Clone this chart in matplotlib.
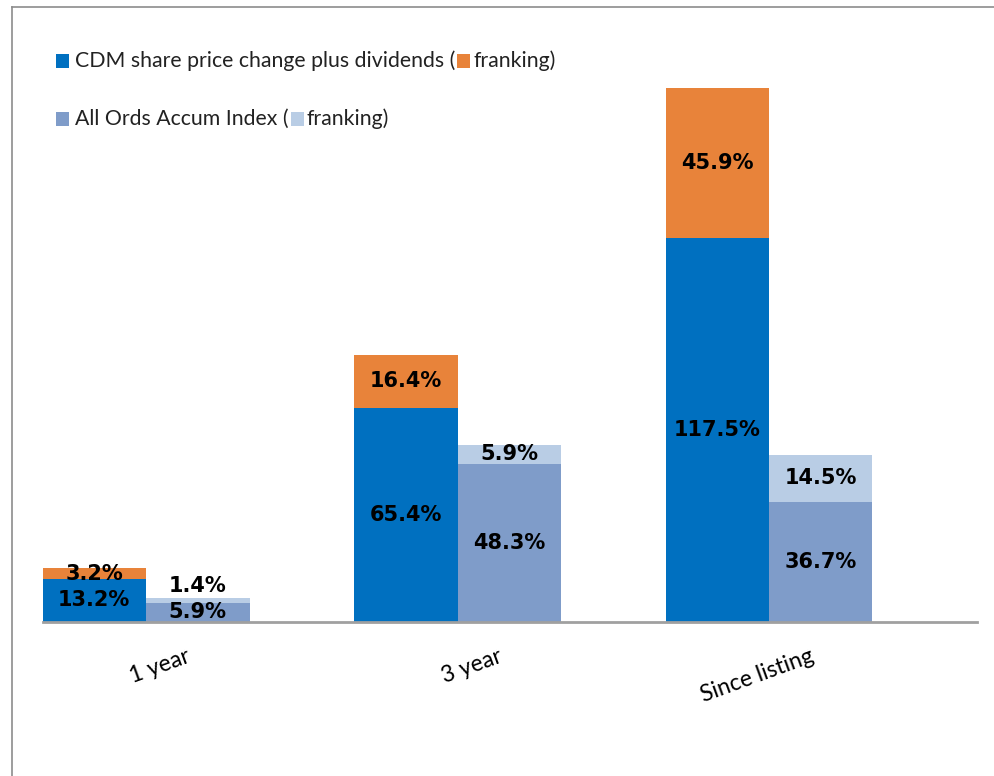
import matplotlib
matplotlib.use("Agg")
import matplotlib.pyplot as plt
from matplotlib.patches import Rectangle
from matplotlib.lines import Line2D
from matplotlib.transforms import ScaledTranslation
import numpy as np

categories = ["1 year", "3 year", "Since listing"]
cdm_base = [13.2, 65.4, 117.5]
cdm_franking = [3.2, 16.4, 45.9]
ao_base = [5.9, 48.3, 36.7]
ao_franking = [1.4, 5.9, 14.5]

legend_1 = "CDM share price change plus dividends ("
legend_2 = "All Ords Accum Index ("
legend_tail = "franking)"

C_BLUE = "#0070C0"
C_ORANGE = "#E8833A"
C_AO = "#7F9CC9"
C_AO_LIGHT = "#B9CDE5"

W, H = 994, 776
fig = plt.figure(figsize=(W / 100, H / 100), dpi=100)

# axes placement in pixels
ax_left, ax_right = 43, 977
ax_bottom = 622
px_per_unit = 3.27
ymax = 175
ax_top = ax_bottom - ymax * px_per_unit
ax = fig.add_axes([ax_left / W, 1 - ax_bottom / H, (ax_right - ax_left) / W, (ax_bottom - ax_top) / H])

spacing = 311.5
bw = 103.5 / spacing
x = np.arange(len(categories))
ax.set_xlim(-(146 - 43) / spacing, 2 + (ax_right - 769) / spacing)
ax.set_ylim(0, ymax)

xb = x - bw / 2
xa = x + bw / 2
ax.bar(xb, cdm_base, width=bw, color=C_BLUE, linewidth=0)
ax.bar(xb, cdm_franking, width=bw, bottom=cdm_base, color=C_ORANGE, linewidth=0)
ax.bar(xa, ao_base, width=bw, color=C_AO, linewidth=0)
ax.bar(xa, ao_franking, width=bw, bottom=ao_base, color=C_AO_LIGHT, linewidth=0)

lab_kw = dict(ha="center", fontsize=15, fontweight="bold", color="black", family="DejaVu Sans")

def put(xpos, bottom, val):
    if val < 2:
        ax.text(xpos, bottom + val + 0.6, f"{val:.1f}%", va="bottom", **lab_kw)
    else:
        ax.text(xpos, bottom + val / 2, f"{val:.1f}%", va="center", **lab_kw)

for i in range(len(categories)):
    put(xb[i], 0, cdm_base[i])
    put(xb[i], cdm_base[i], cdm_franking[i])
    put(xa[i], 0, ao_base[i])
    put(xa[i], ao_base[i], ao_franking[i])

for s in ["top", "right", "left"]:
    ax.spines[s].set_visible(False)
ax.spines["bottom"].set_color("#A0A0A0")
ax.spines["bottom"].set_linewidth(2)
ax.set_yticks([])
ax.set_xticks(x)
ax.set_xticklabels(categories, rotation=20, fontsize=16.5, family="Lato", color="black")
ax.tick_params(axis="x", length=0, pad=17)
label_shift_px = [14, 14, -12]
for lbl, dx in zip(ax.get_xticklabels(), label_shift_px):
    lbl.set_transform(lbl.get_transform() + ScaledTranslation(dx / 100, 0, fig.dpi_scale_trans))

# figure border (left and top)
fig.add_artist(Line2D([11.5 / W, 11.5 / W], [0, 1 - 7 / H], transform=fig.transFigure, color="#8C8C8C", lw=1.2))
fig.add_artist(Line2D([11.5 / W, 1], [1 - 7 / H, 1 - 7 / H], transform=fig.transFigure, color="#8C8C8C", lw=1.2))

# legend (manual)
def legend_row(ycen, text, c1, c2):
    sq = 13
    fig.add_artist(Rectangle((56 / W, 1 - (ycen + sq / 2) / H), sq / W, sq / H,
                             transform=fig.transFigure, color=c1, lw=0))
    t = fig.text(75 / W, 1 - ycen / H, text, fontsize=15.3, family="Lato",
                 va="center", ha="left", color="#222222")
    fig.canvas.draw()
    bb = t.get_window_extent()
    x2 = bb.x1 + 2
    fig.add_artist(Rectangle((x2 / W, 1 - (ycen + sq / 2) / H), sq / W, sq / H,
                             transform=fig.transFigure, color=c2, lw=0))
    fig.text((x2 + sq + 3) / W, 1 - ycen / H, legend_tail, fontsize=15.3, family="Lato",
             va="center", ha="left", color="#222222")

legend_row(61, legend_1, C_BLUE, C_ORANGE)
legend_row(119, legend_2, C_AO, C_AO_LIGHT)

fig.savefig("out.png", dpi=100)
